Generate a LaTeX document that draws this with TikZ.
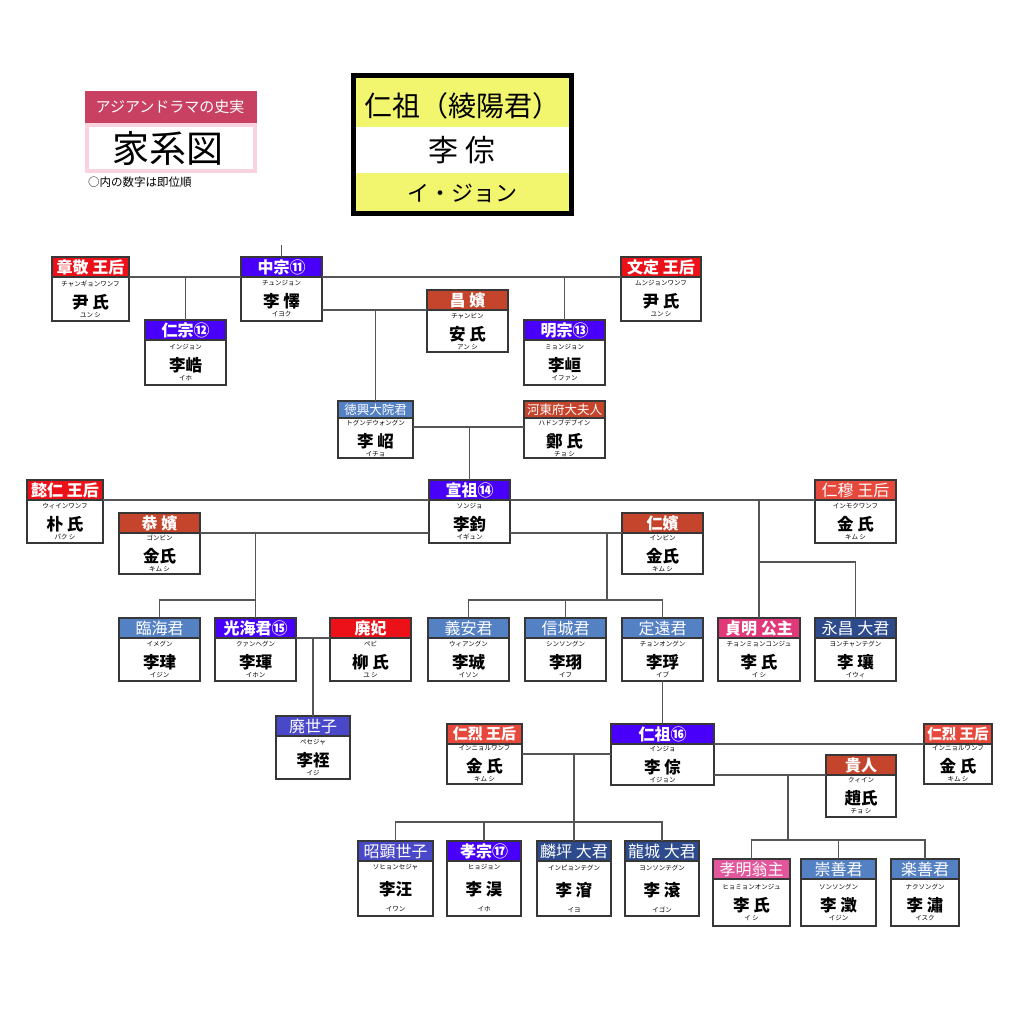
\documentclass[tikz,border=0pt]{standalone}
\usepackage{fontspec}
\setmainfont{Noto Sans CJK JP}
\usetikzlibrary{positioning}
\definecolor{kingc}{RGB}{72,0,250}
\definecolor{queenc}{RGB}{236,16,24}
\definecolor{queentwoc}{RGB}{230,72,60}
\definecolor{binc}{RGB}{196,68,44}
\definecolor{kunc}{RGB}{84,128,196}
\definecolor{daegunc}{RGB}{44,74,140}
\definecolor{sejac}{RGB}{72,72,200}
\definecolor{gongjuc}{RGB}{224,56,120}
\definecolor{ongjuc}{RGB}{226,86,156}
\definecolor{bannerc}{RGB}{200,64,98}
\definecolor{bannerlc}{RGB}{248,210,222}
\definecolor{titlec}{RGB}{242,246,110}
\definecolor{borderc}{RGB}{55,55,55}
\definecolor{linec}{RGB}{85,85,85}
\newcommand{\kana}[1]{{\fontsize{6.5}{6.5}\selectfont #1}}
\newcommand{\yomi}[1]{{\fontsize{6.5}{6.5}\selectfont #1}}
\newcommand{\imina}[1]{{\fontsize{16.5}{16.5}\selectfont\bfseries #1}}
\setlength{\lineskiplimit}{-20pt}
\begin{document}
\begin{tikzpicture}[
    x=1pt, y=-1pt,
    head/.style 2 args={
        draw=borderc,
        line width=1.3pt,
        fill=#1,
        text=white,
        minimum width=#2,
        minimum height=20pt,
        inner sep=0pt,
        outer sep=0pt,
        font=\fontsize{16}{16}\selectfont\bfseries
    },
    thin/.style={
        font=\fontsize{16}{16}\selectfont
    },
    body/.style 2 args={
        draw=borderc,
        line width=1.3pt,
        fill=white,
        minimum width=#1,
        minimum height=#2,
        inner sep=0pt,
        outer sep=0pt,
        align=center,
        font=\fontsize{6.5}{9}\selectfont
    },
    small/.style={
        minimum height=17pt,
        font=\fontsize{12.5}{12.5}\selectfont
    },
    link/.style={
        draw=linec,
        line width=1.3pt
    }
    ]
    \useasboundingbox[fill=white] (0,0) rectangle (1012,1024);

    % banner
    \fill[bannerc] (85,91) rectangle (257,123);
    \draw[bannerlc, line width=4pt] (87,125) rectangle (255,171);
    \node[text=white, font=\fontsize{15}{15}\selectfont] (SERIES) at (170,107) {アジアンドラマの史実};
    \node[font=\fontsize{37}{37}\selectfont] (KAKEIZU) at (168,148) {家系図};
    \node[anchor=west, inner sep=0pt, font=\fontsize{11.5}{11.5}\selectfont] (NOTE) at (88,182) {○内の数字は即位順};

    % title
    \fill[titlec] (351,73) rectangle (574,216);
    \fill[white] (354,127) rectangle (571,173);
    \draw[line width=5pt] (353.5,75.5) rectangle (571.5,213.5);
    \node[font=\fontsize{28}{28}\selectfont] (TITLE) at (462,106) {仁祖（綾陽君）};
    \node[font=\fontsize{30}{30}\selectfont] (TITLENAME) at (462,150) {李 倧};
    \node[font=\fontsize{22}{22}\selectfont] (TITLEYOMI) at (462,193) {イ・ジョン};

    % Jungjong
    \node[head={queenc}{77pt}] (JANGGYEONG) at (90.5,267) {章敬 王后};
    \node[body={77pt}{44pt}, below=0pt of JANGGYEONG] (JANGGYEONGB) {\kana{チャンギョンワンフ}\\[13pt]\imina{尹 氏}\\ \yomi{ユン シ}};
    \node[head={kingc}{81pt}] (JUNGJONG) at (281.5,267) {中宗⑪};
    \node[body={81pt}{44pt}, below=0pt of JUNGJONG] (JUNGJONGB) {\kana{チュンジョン}\\[13pt]\imina{李 懌}\\ \yomi{イヨク}};
    \node[head={queenc}{80pt}] (MUNJEONG) at (661,267) {文定 王后};
    \node[body={80pt}{44pt}, below=0pt of MUNJEONG] (MUNJEONGB) {\kana{ムンジョンワンフ}\\[13pt]\imina{尹 氏}\\ \yomi{ユン シ}};
    \node[head={kingc}{81pt}] (INJONG) at (185.5,330) {仁宗⑫};
    \node[body={81pt}{45pt}, below=0pt of INJONG] (INJONGB) {\kana{インジョン}\\[13pt]\imina{李峼}\\ \yomi{イホ}};
    \node[head={binc}{81pt}] (CHANGBIN) at (467.5,300) {昌 嬪};
    \node[body={81pt}{42pt}, below=0pt of CHANGBIN] (CHANGBINB) {\kana{チャンビン}\\[13pt]\imina{安 氏}\\ \yomi{アン シ}};
    \node[head={kingc}{81pt}] (MYEONGJONG) at (564.5,330) {明宗⑬};
    \node[body={81pt}{45pt}, below=0pt of MYEONGJONG] (MYEONGJONGB) {\kana{ミョンジョン}\\[13pt]\imina{李峘}\\ \yomi{イファン}};

    % Seonjo's parents
    \node[head={kunc}{75pt}, small] (DEOKHEUNG) at (375.5,409.5) {徳興大院君};
    \node[body={75pt}{40pt}, below=0pt of DEOKHEUNG] (DEOKHEUNGB) {\kana{トグンデウォングン}\\[13pt]\imina{李 岹}\\ \yomi{イチョ}};
    \node[head={binc}{81pt}, small] (HADONG) at (564.5,409.5) {河東府大夫人};
    \node[body={81pt}{40pt}, below=0pt of HADONG] (HADONGB) {\kana{ハドンブデブイン}\\[13pt]\imina{鄭 氏}\\ \yomi{チョ シ}};

    % Seonjo
    \node[head={kingc}{81pt}] (SEONJO) at (469.5,490) {宣祖⑭};
    \node[body={81pt}{43pt}, below=0pt of SEONJO] (SEONJOB) {\kana{ソンジョ}\\[13pt]\imina{李鈞}\\ \yomi{イギュン}};
    \node[head={queenc}{76pt}] (UIIN) at (65,490) {懿仁 王后};
    \node[body={76pt}{43pt}, below=0pt of UIIN] (UIINB) {\kana{ウィインワンフ}\\[13pt]\imina{朴 氏}\\ \yomi{パク シ}};
    \node[head={binc}{81pt}] (GONGBIN) at (159.5,523) {恭 嬪};
    \node[body={81pt}{41pt}, below=0pt of GONGBIN] (GONGBINB) {\kana{ゴンビン}\\[13pt]\imina{金氏}\\ \yomi{キム シ}};
    \node[head={binc}{81pt}] (INBIN) at (662.5,523) {仁嬪};
    \node[body={81pt}{41pt}, below=0pt of INBIN] (INBINB) {\kana{インビン}\\[13pt]\imina{金氏}\\ \yomi{キム シ}};
    \node[head={queentwoc}{81pt}, thin] (INMOK) at (855.5,490) {仁穆 王后};
    \node[body={81pt}{43pt}, below=0pt of INMOK] (INMOKB) {\kana{インモクワンフ}\\[13pt]\imina{金 氏}\\ \yomi{キム シ}};

    % Seonjo's children
    \node[head={kunc}{81pt}, thin] (IMHAE) at (159.5,628) {臨海君};
    \node[body={81pt}{43pt}, below=0pt of IMHAE] (IMHAEB) {\kana{イメグン}\\[13pt]\imina{李珒}\\ \yomi{イジン}};
    \node[head={kingc}{81pt}] (GWANGHAE) at (255.5,628) {光海君⑮};
    \node[body={81pt}{43pt}, below=0pt of GWANGHAE] (GWANGHAEB) {\kana{クァンヘグン}\\[13pt]\imina{李琿}\\ \yomi{イホン}};
    \node[head={queenc}{81pt}] (PYEBI) at (370.5,628) {廃妃};
    \node[body={81pt}{43pt}, below=0pt of PYEBI] (PYEBIB) {\kana{ペビ}\\[13pt]\imina{柳 氏}\\ \yomi{ユ シ}};
    \node[head={kunc}{81pt}, thin] (UIAN) at (468.5,628) {義安君};
    \node[body={81pt}{43pt}, below=0pt of UIAN] (UIANB) {\kana{ウィアングン}\\[13pt]\imina{李珹}\\ \yomi{イソン}};
    \node[head={kunc}{81pt}, thin] (SINSEONG) at (565.5,628) {信城君};
    \node[body={81pt}{43pt}, below=0pt of SINSEONG] (SINSEONGB) {\kana{シンソングン}\\[13pt]\imina{李珝}\\ \yomi{イフ}};
    \node[head={kunc}{81pt}, thin] (JEONGWON) at (662.5,628) {定遠君};
    \node[body={81pt}{43pt}, below=0pt of JEONGWON] (JEONGWONB) {\kana{チョンオングン}\\[13pt]\imina{李琈}\\ \yomi{イブ}};
    \node[head={gongjuc}{82pt}] (JEONGMYEONG) at (759,628) {貞明 公主};
    \node[body={82pt}{43pt}, below=0pt of JEONGMYEONG] (JEONGMYEONGB) {\kana{チョンミョンコンジュ}\\[13pt]\imina{李 氏}\\ \yomi{イ シ}};
    \node[head={daegunc}{81pt}, thin] (YEONGCHANG) at (855.5,628) {永昌 大君};
    \node[body={81pt}{43pt}, below=0pt of YEONGCHANG] (YEONGCHANGB) {\kana{ヨンチャンテグン}\\[13pt]\imina{李 瓖}\\ \yomi{イウィ}};
    \node[head={sejac}{74pt}, thin] (PYESEJA) at (313,726) {廃世子};
    \node[body={74pt}{43pt}, below=0pt of PYESEJA] (PYESEJAB) {\kana{ペセジャ}\\[13pt]\imina{李祬}\\ \yomi{イジ}};

    % Injo
    \node[head={kingc}{103pt}] (INJO) at (662.5,734) {仁祖⑯};
    \node[body={103pt}{41pt}, below=0pt of INJO] (INJOB) {\kana{インジョ}\\[13pt]\imina{李 倧}\\ \yomi{イジョン}};
    \node[head={queentwoc}{75pt}, font=\fontsize{15}{15}\selectfont\bfseries] (INYEOL) at (484.5,734) {仁烈 王后};
    \node[body={75pt}{40pt}, below=0pt of INYEOL] (INYEOLB) {\kana{インニョルワンフ}\\[13pt]\imina{金 氏}\\ \yomi{キム シ}};
    \node[head={queentwoc}{68pt}, font=\fontsize{14.5}{14.5}\selectfont\bfseries] (INYEOLR) at (958,734) {仁烈 王后};
    \node[body={68pt}{40pt}, below=0pt of INYEOLR] (INYEOLRB) {\kana{インニョルワンフ}\\[13pt]\imina{金 氏}\\ \yomi{キム シ}};
    \node[head={binc}{70pt}] (GUIIN) at (861,765) {貴人};
    \node[body={70pt}{42pt}, below=0pt of GUIIN] (GUIINB) {\kana{クィイン}\\[13pt]\imina{趙氏}\\ \yomi{チョ シ}};

    % Injo's children
    \node[head={sejac}{75pt}, thin] (SOHYEON) at (395.5,851) {昭顕世子};
    \node[body={75pt}{55pt}, below=0pt of SOHYEON] (SOHYEONB) {\kana{ソヒョンセジャ}\\[17pt]\imina{李汪}\\[7pt]\yomi{イワン}};
    \node[head={kingc}{74pt}] (HYOJONG) at (484,851) {孝宗⑰};
    \node[body={74pt}{55pt}, below=0pt of HYOJONG] (HYOJONGB) {\kana{ヒョジョン}\\[17pt]\imina{李 淏}\\[7pt]\yomi{イホ}};
    \node[head={daegunc}{74pt}, thin] (INPYEONG) at (574,851) {麟坪 大君};
    \node[body={74pt}{55pt}, below=0pt of INPYEONG] (INPYEONGB) {\kana{インピョンテグン}\\[17pt]\imina{李 㴭}\\[7pt]\yomi{イヨ}};
    \node[head={daegunc}{74pt}, thin] (YONGSEONG) at (662,851) {龍城 大君};
    \node[body={74pt}{55pt}, below=0pt of YONGSEONG] (YONGSEONGB) {\kana{ヨンソンテグン}\\[17pt]\imina{李 滾}\\[7pt]\yomi{イゴン}};
    \node[head={ongjuc}{77pt}, thin] (HYOMYEONG) at (751.5,869) {孝明翁主};
    \node[body={77pt}{47pt}, below=0pt of HYOMYEONG] (HYOMYEONGB) {\kana{ヒョミョンオンジュ}\\[13pt]\imina{李 氏}\\ \yomi{イ シ}};
    \node[head={kunc}{75pt}, thin] (SUNGSEON) at (838.5,869) {崇善君};
    \node[body={75pt}{47pt}, below=0pt of SUNGSEON] (SUNGSEONB) {\kana{ソンソングン}\\[13pt]\imina{李 澂}\\ \yomi{イジン}};
    \node[head={kunc}{68pt}, thin] (NAKSEON) at (925,869) {楽善君};
    \node[body={68pt}{47pt}, below=0pt of NAKSEON] (NAKSEONB) {\kana{ナクソングン}\\[13pt]\imina{李 潚}\\ \yomi{イスク}};

    % connectors
    \coordinate (ABOVE) at (281.5,245);
    \draw[link] (ABOVE) -- (JUNGJONG.north);
    \draw[link] (JANGGYEONGB.north east) -- (JUNGJONGB.north west);
    \draw[link] (JUNGJONGB.north east) -- (MUNJEONGB.north west);
    \draw[link] (INJONG.north) -- (INJONG.north |- JANGGYEONGB.north);
    \draw[link] (MYEONGJONG.north) -- (MYEONGJONG.north |- MUNJEONGB.north);
    \draw[link] (JUNGJONGB.east |- CHANGBINB.north) -- (CHANGBINB.north west);
    \draw[link] (DEOKHEUNG.north) -- (DEOKHEUNG.north |- CHANGBINB.north);

    \coordinate (DH) at ([yshift=-9pt]DEOKHEUNGB.north east);
    \draw[link] (DH) -- (DH -| HADONGB.west);
    \draw[link] (SEONJO.north) -- (SEONJO.north |- DH);

    \draw[link] (UIINB.north east) -- (SEONJOB.north west);
    \draw[link] (SEONJOB.north east) -- (INMOKB.north west);
    \draw[link] (GONGBINB.north east) -- (GONGBINB.north east -| SEONJOB.west);
    \draw[link] (INBINB.north west -| SEONJOB.east) -- (INBINB.north west);
    \draw[link] (GWANGHAE.north) -- (GWANGHAE.north |- GONGBINB.north);
    \draw[link] (IMHAE.north) |- ([yshift=18pt]GWANGHAE.north);

    \coordinate (IB) at (607,600);
    \draw[link] (IB) -- (IB |- INBINB.north);
    \draw[link] (UIAN.north) |- (IB) -| (JEONGWON.north);
    \draw[link] (SINSEONG.north) -- (SINSEONG.north |- IB);

    \draw[link] (JEONGMYEONG.north) -- (JEONGMYEONG.north |- INMOKB.north);
    \draw[link] ([yshift=56pt]JEONGMYEONG.north) -| (YEONGCHANG.north);

    \draw[link] (GWANGHAEB.north east) -- (PYEBIB.north west);
    \draw[link] (PYESEJA.north) -- (PYESEJA.north |- PYEBIB.north);

    \draw[link] (JEONGWONB.south) -- (JEONGWONB.south |- INJO.north);

    \coordinate (IY) at ([yshift=10pt]INYEOLB.east);
    \draw[link] (IY) -- (IY -| INJOB.west);
    \draw[link] (INJOB.north east) -- (INYEOLRB.north west);
    \draw[link] (INJOB.east |- GUIINB.north) -- (GUIINB.north west);
    \draw[link] (INPYEONG.north) -- (INPYEONG.north |- IY);
    \draw[link] (SOHYEON.north) |- ([yshift=19pt]YONGSEONG.north) -- (YONGSEONG.north);
    \draw[link] (HYOJONG.north) -- ([yshift=19pt]HYOJONG.north);

    \coordinate (GI) at (788,840);
    \draw[link] (GI) -- (GI |- GUIINB.north);
    \draw[link] (HYOMYEONG.north) |- (GI) -| (NAKSEON.north);
    \draw[link] (SUNGSEON.north) -- (SUNGSEON.north |- GI);
\end{tikzpicture}
\end{document}
